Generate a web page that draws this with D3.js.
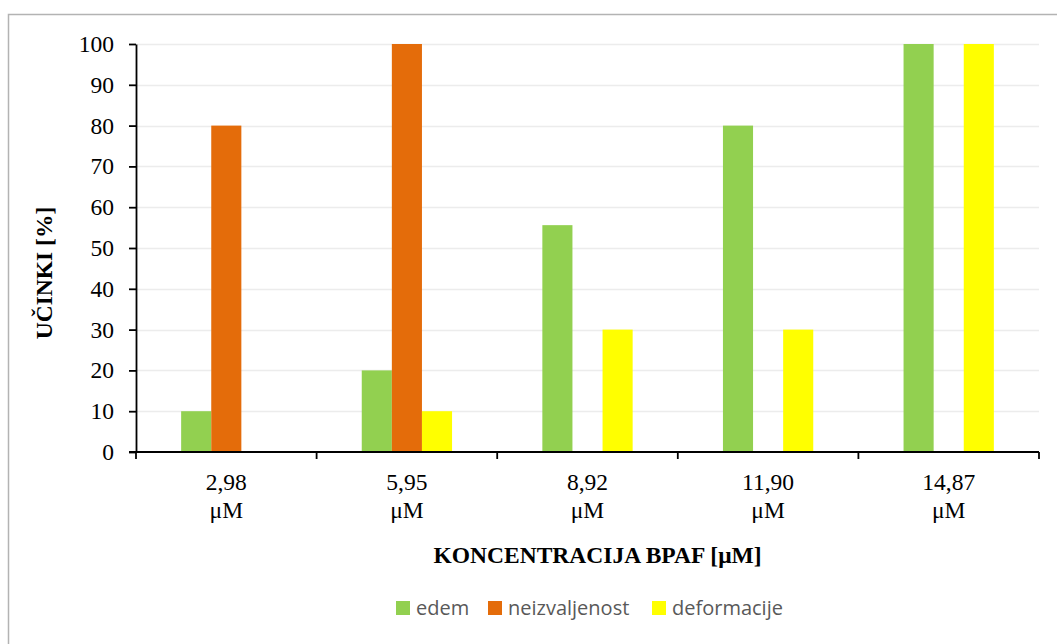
<!DOCTYPE html>
<html>
<head>
<meta charset="utf-8">
<script src="https://cdn.jsdelivr.net/npm/d3@7"></script>
<style>
  html, body { margin: 0; padding: 0; background: #fff; }
  svg { display: block; }
</style>
</head>
<body>
<svg id="chart" width="1057" height="644"></svg>
<script>
// Concentration groups and effect series (%)
const categories = ["2,98", "5,95", "8,92", "11,90", "14,87"];
const unitLabel = "μM";
const seriesNames = ["edem", "neizvaljenost", "deformacije"];
const edem = [10, 20, 55.6, 80, 100];
const neizvaljenost = [80, 100, 0, 0, 0];
const deformacije = [0, 10, 30, 30, 100];
const yTicks = [0, 10, 20, 30, 40, 50, 60, 70, 80, 90, 100];
const colors = ["#92d050", "#e46c0a", "#ffff00"];

const seriesValues = [edem, neizvaljenost, deformacije];
const rows = categories.map((c, i) => ({
  cat: c,
  vals: seriesNames.map((s, j) => ({ key: s, value: seriesValues[j][i] }))
}));

const svg = d3.select("#chart");
const W = 1057, H = 644;
const plot = { left: 136, right: 1039, top: 44, bottom: 452 };

// outer frame
svg.append("rect")
  .attr("x", 8.5).attr("y", 14.5)
  .attr("width", W + 10).attr("height", H + 10)
  .attr("fill", "#fff")
  .attr("stroke", "#b3b3b3").attr("stroke-width", 1.5);

const x0 = d3.scaleBand().domain(categories).range([plot.left, plot.right]).padding(0);
const x1 = d3.scaleBand().domain(seriesNames)
  .range([x0.bandwidth() * 0.25, x0.bandwidth() * 0.75]).padding(0);
const y = d3.scaleLinear().domain([0, 100]).range([plot.bottom, plot.top]);
const color = d3.scaleOrdinal().domain(seriesNames).range(colors);

// gridlines
svg.append("g")
  .selectAll("line")
  .data(yTicks.filter(t => t > 0))
  .join("line")
  .attr("x1", plot.left).attr("x2", plot.right)
  .attr("y1", d => Math.round(y(d)) + 0.5).attr("y2", d => Math.round(y(d)) + 0.5)
  .attr("stroke", "#ececec").attr("stroke-width", 1.5);

// bars
svg.append("g")
  .selectAll("g")
  .data(rows)
  .join("g")
  .attr("transform", d => `translate(${x0(d.cat)},0)`)
  .selectAll("rect")
  .data(d => d.vals.filter(v => v.value > 0))
  .join("rect")
  .attr("x", d => x1(d.key))
  .attr("width", x1.bandwidth())
  .attr("y", d => y(d.value))
  .attr("height", d => y(0) - y(d.value))
  .attr("fill", d => color(d.key));

const serif = "'Liberation Serif', 'Times New Roman', serif";

// y axis
const yAxis = svg.append("g")
  .attr("transform", `translate(${plot.left},0)`)
  .call(d3.axisLeft(y).tickValues(yTicks).tickSize(7).tickPadding(15).tickSizeOuter(0));
yAxis.select(".domain").attr("stroke", "#000").attr("stroke-width", 1.8);
yAxis.selectAll(".tick line").attr("stroke", "#000").attr("stroke-width", 1.8);
yAxis.selectAll(".tick text")
  .attr("font-family", serif).attr("font-size", 23.5).attr("fill", "#000");

// x axis: line plus tick marks on group boundaries
const xg = svg.append("g").attr("transform", `translate(0,${plot.bottom})`);
xg.append("line")
  .attr("x1", plot.left - 7).attr("x2", plot.right)
  .attr("stroke", "#000").attr("stroke-width", 1.8);
const bounds = categories.map(c => x0(c)).concat([x0(categories[categories.length - 1]) + x0.bandwidth()]);
xg.selectAll("line.bt")
  .data(bounds)
  .join("line")
  .attr("class", "bt")
  .attr("x1", d => d).attr("x2", d => d)
  .attr("y1", 0).attr("y2", 7)
  .attr("stroke", "#000").attr("stroke-width", 1.8);
const xl = xg.selectAll("text.cl")
  .data(categories)
  .join("text")
  .attr("class", "cl")
  .attr("x", d => x0(d) + x0.bandwidth() / 2)
  .attr("text-anchor", "middle")
  .attr("font-family", serif).attr("font-size", 23.5).attr("fill", "#000");
xl.append("tspan").attr("x", d => x0(d) + x0.bandwidth() / 2).attr("y", 38).text(d => d);
xl.append("tspan").attr("x", d => x0(d) + x0.bandwidth() / 2).attr("y", 66).text(unitLabel);

// axis titles
svg.append("text")
  .attr("x", 597.5).attr("y", 563)
  .attr("text-anchor", "middle")
  .attr("font-family", serif).attr("font-weight", "bold").attr("font-size", 23.5)
  .text("KONCENTRACIJA BPAF [μM]");

svg.append("text")
  .attr("transform", "translate(52,273) rotate(-90)")
  .attr("text-anchor", "middle")
  .attr("font-family", serif).attr("font-weight", "bold").attr("font-size", 23.5)
  .text("UČINKI [%]");

// legend
const legendX = [396, 488, 652];
const lg = svg.append("g")
  .selectAll("g")
  .data(seriesNames)
  .join("g")
  .attr("transform", (d, i) => `translate(${legendX[i]},601)`);
lg.append("rect").attr("width", 14).attr("height", 14).attr("fill", d => color(d));
lg.append("text")
  .attr("x", 20).attr("y", 14)
  .attr("font-family", "'Open Sans', sans-serif").attr("font-size", 20).attr("fill", "#595959")
  .text(d => d);
</script>
</body>
</html>
